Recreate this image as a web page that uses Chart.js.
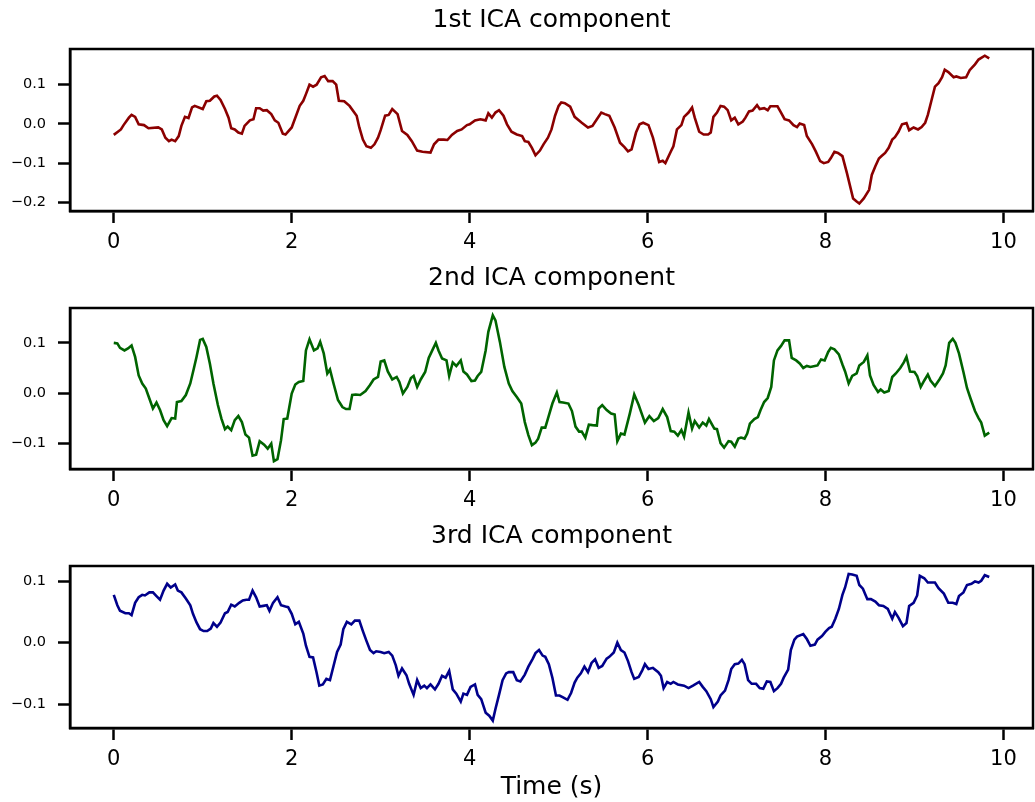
<!DOCTYPE html>
<html>
<head>
<meta charset="utf-8">
<script src="https://cdn.jsdelivr.net/npm/chart.js@4.4.1/dist/chart.umd.min.js"></script>
<style>
  html, body { margin: 0; padding: 0; background: #fff; }
  #wrap { position: relative; width: 1035px; height: 802px; }
  canvas { position: absolute; left: 0; }
</style>
</head>
<body>
<div id="wrap">
  <canvas id="c1" width="1035" height="258" style="top:0px"></canvas>
  <canvas id="c2" width="1035" height="258" style="top:258px"></canvas>
  <canvas id="c3" width="1035" height="286" style="top:516px"></canvas>
</div>
<script>
// ---- data (time in s, component amplitude) ----
const xTicks = [0, 2, 4, 6, 8, 10];

const ica1Time = [
  0, 0.08, 0.11, 0.17, 0.2, 0.24, 0.28, 0.34, 0.39, 0.5,
  0.54, 0.58, 0.62, 0.65, 0.69, 0.73, 0.76, 0.8, 0.84, 0.88,
  0.91, 1.0, 1.04, 1.08, 1.13, 1.16, 1.2, 1.25, 1.29, 1.32,
  1.36, 1.4, 1.44, 1.47, 1.53, 1.57, 1.6, 1.64, 1.68, 1.72,
  1.77, 1.81, 1.85, 1.9, 1.93, 2.0, 2.09, 2.13, 2.16, 2.2,
  2.24, 2.28, 2.33, 2.37, 2.41, 2.46, 2.5, 2.53, 2.59, 2.65,
  2.73, 2.76, 2.8, 2.84, 2.89, 2.93, 2.97, 3.0, 3.05, 3.09,
  3.13, 3.19, 3.24, 3.3, 3.35, 3.41, 3.47, 3.56, 3.6, 3.65,
  3.71, 3.75, 3.8, 3.86, 3.91, 3.97, 4.0, 4.06, 4.12, 4.18,
  4.21, 4.25, 4.29, 4.33, 4.38, 4.42, 4.47, 4.53, 4.59, 4.62,
  4.66, 4.7, 4.74, 4.79, 4.83, 4.88, 4.92, 4.96, 5.0, 5.03,
  5.07, 5.13, 5.18, 5.26, 5.33, 5.38, 5.43, 5.48, 5.52, 5.57,
  5.63, 5.69, 5.74, 5.78, 5.82, 5.87, 5.91, 5.95, 6.01, 6.06,
  6.1, 6.13, 6.17, 6.2, 6.26, 6.29, 6.33, 6.38, 6.41, 6.46,
  6.5, 6.53, 6.58, 6.63, 6.68, 6.71, 6.74, 6.78, 6.82, 6.86,
  6.9, 6.94, 6.98, 7.02, 7.07, 7.1, 7.14, 7.18, 7.23, 7.26,
  7.31, 7.35, 7.38, 7.46, 7.5, 7.54, 7.59, 7.64, 7.68, 7.71,
  7.76, 7.79, 7.85, 7.89, 7.94, 7.98, 8.03, 8.06, 8.1, 8.14,
  8.19, 8.24, 8.31, 8.35, 8.38, 8.43, 8.49, 8.52, 8.56, 8.6,
  8.63, 8.67, 8.71, 8.75, 8.78, 8.82, 8.86, 8.91, 8.94, 8.99,
  9.04, 9.08, 9.12, 9.15, 9.19, 9.23, 9.27, 9.31, 9.34, 9.38,
  9.44, 9.47, 9.52, 9.58, 9.62, 9.68, 9.72, 9.79, 9.84
];
const ica1Values = [
  -0.028, -0.014, -0.003, 0.016, 0.023, 0.018, -0.001, -0.003, -0.011, -0.009,
  -0.014, -0.035, -0.044, -0.04, -0.044, -0.031, -0.005, 0.018, 0.015, 0.042,
  0.046, 0.038, 0.058, 0.059, 0.07, 0.072, 0.061, 0.038, 0.016, -0.011,
  -0.014, -0.022, -0.025, -0.005, 0.009, 0.012, 0.04, 0.04, 0.034, 0.035,
  0.025, 0.009, 0.003, -0.025, -0.027, -0.009, 0.046, 0.059, 0.076, 0.1,
  0.095, 0.1, 0.119, 0.122, 0.109, 0.109, 0.1, 0.059, 0.058, 0.046,
  0.021, -0.009, -0.04, -0.057, -0.061, -0.052, -0.035, -0.016, 0.021, 0.023,
  0.038, 0.025, -0.018, -0.028, -0.044, -0.068, -0.071, -0.073, -0.052, -0.04,
  -0.04, -0.041, -0.028, -0.018, -0.014, -0.003, -0.001, 0.009, 0.012, 0.009,
  0.027, 0.016, 0.029, 0.035, 0.021, -0.001, -0.02, -0.027, -0.031, -0.044,
  -0.046, -0.061, -0.08, -0.068, -0.052, -0.035, -0.014, 0.021, 0.046, 0.055,
  0.053, 0.044, 0.018, 0.003, -0.009, -0.005, 0.012, 0.029, 0.025, 0.021,
  -0.009, -0.048, -0.059, -0.07, -0.065, -0.022, -0.001, 0.003, -0.003, -0.035,
  -0.07, -0.097, -0.094, -0.1, -0.071, -0.057, -0.014, -0.003, 0.018, 0.029,
  0.042, 0.016, -0.02, -0.027, -0.027, -0.022, 0.018, 0.029, 0.046, 0.044,
  0.035, 0.009, 0.016, -0.001, 0.006, 0.016, 0.032, 0.034, 0.048, 0.038,
  0.04, 0.035, 0.045, 0.045, 0.029, 0.012, 0.009, -0.003, -0.008, 0.001,
  -0.003, -0.031, -0.052, -0.07, -0.095, -0.1, -0.097, -0.087, -0.071, -0.074,
  -0.082, -0.125, -0.19, -0.198, -0.203, -0.19, -0.168, -0.13, -0.108, -0.088,
  -0.082, -0.074, -0.061, -0.04, -0.034, -0.02, -0.001, 0.002, -0.016, -0.009,
  -0.014, -0.008, 0.003, 0.023, 0.059, 0.095, 0.104, 0.119, 0.138, 0.132,
  0.119, 0.121, 0.117, 0.119, 0.137, 0.152, 0.164, 0.174, 0.167
];

const ica2Time = [
  0, 0.04, 0.07, 0.12, 0.16, 0.2, 0.24, 0.28, 0.32, 0.36,
  0.4, 0.44, 0.48, 0.52, 0.56, 0.6, 0.65, 0.69, 0.71, 0.76,
  0.81, 0.86, 0.9, 0.93, 0.97, 1.0, 1.04, 1.08, 1.12, 1.17,
  1.21, 1.25, 1.28, 1.32, 1.36, 1.4, 1.44, 1.48, 1.52, 1.56,
  1.6, 1.64, 1.69, 1.73, 1.77, 1.8, 1.84, 1.88, 1.91, 1.95,
  2.0, 2.04, 2.08, 2.13, 2.16, 2.2, 2.25, 2.29, 2.32, 2.36,
  2.4, 2.43, 2.47, 2.52, 2.57, 2.61, 2.65, 2.68, 2.72, 2.77,
  2.83, 2.88, 2.92, 2.97, 3.0, 3.04, 3.08, 3.13, 3.18, 3.21,
  3.25, 3.3, 3.34, 3.37, 3.41, 3.45, 3.5, 3.54, 3.58, 3.62,
  3.65, 3.69, 3.74, 3.77, 3.81, 3.85, 3.9, 3.93, 3.97, 4.02,
  4.06, 4.09, 4.13, 4.18, 4.21, 4.26, 4.29, 4.34, 4.39, 4.44,
  4.48, 4.53, 4.58, 4.62, 4.66, 4.7, 4.74, 4.77, 4.81, 4.85,
  4.88, 4.93, 4.98, 5.01, 5.05, 5.11, 5.15, 5.19, 5.23, 5.26,
  5.3, 5.34, 5.38, 5.43, 5.45, 5.49, 5.54, 5.59, 5.63, 5.66,
  5.7, 5.74, 5.8, 5.85, 5.9, 5.94, 5.97, 6.02, 6.07, 6.12,
  6.17, 6.22, 6.26, 6.3, 6.34, 6.38, 6.41, 6.46, 6.5, 6.53,
  6.58, 6.62, 6.66, 6.69, 6.75, 6.78, 6.82, 6.86, 6.91, 6.94,
  6.98, 7.02, 7.05, 7.09, 7.12, 7.15, 7.2, 7.24, 7.27, 7.31,
  7.35, 7.39, 7.42, 7.46, 7.5, 7.54, 7.59, 7.62, 7.67, 7.71,
  7.75, 7.79, 7.83, 7.88, 7.91, 7.95, 7.99, 8.03, 8.06, 8.1,
  8.15, 8.19, 8.22, 8.26, 8.3, 8.35, 8.38, 8.43, 8.47, 8.5,
  8.54, 8.59, 8.62, 8.66, 8.71, 8.75, 8.79, 8.84, 8.88, 8.91,
  8.95, 9.0, 9.03, 9.07, 9.11, 9.15, 9.18, 9.23, 9.28, 9.32,
  9.35, 9.39, 9.43, 9.46, 9.5, 9.55, 9.59, 9.63, 9.68, 9.72,
  9.75, 9.79, 9.84
];
const ica2Values = [
  0.1, 0.099, 0.09, 0.085, 0.089, 0.095, 0.072, 0.035, 0.019, 0.009,
  -0.011, -0.031, -0.019, -0.034, -0.054, -0.066, -0.05, -0.051, -0.018, -0.016,
  -0.004, 0.019, 0.049, 0.072, 0.106, 0.108, 0.092, 0.059, 0.019, -0.024,
  -0.051, -0.072, -0.067, -0.074, -0.054, -0.046, -0.058, -0.083, -0.089, -0.125,
  -0.123, -0.096, -0.103, -0.111, -0.101, -0.136, -0.132, -0.094, -0.052, -0.051,
  -0.001, 0.017, 0.022, 0.024, 0.085, 0.107, 0.085, 0.089, 0.102, 0.079,
  0.039, 0.047, 0.019, -0.014, -0.028, -0.032, -0.032, -0.004, -0.003, -0.004,
  0.004, 0.016, 0.027, 0.032, 0.063, 0.065, 0.043, 0.027, 0.032, 0.022,
  -0.001, 0.012, 0.03, 0.034, 0.012, 0.027, 0.042, 0.07, 0.085, 0.1,
  0.085, 0.069, 0.065, 0.034, 0.061, 0.054, 0.065, 0.043, 0.037, 0.024,
  0.025, 0.034, 0.042, 0.085, 0.122, 0.155, 0.145, 0.102, 0.052, 0.019,
  0.004, -0.008, -0.021, -0.058, -0.084, -0.104, -0.099, -0.091, -0.069, -0.069,
  -0.051, -0.021, 0.001, -0.018, -0.019, -0.021, -0.036, -0.067, -0.077, -0.077,
  -0.089, -0.063, -0.064, -0.065, -0.031, -0.024, -0.034, -0.041, -0.043, -0.096,
  -0.081, -0.083, -0.041, -0.003, -0.024, -0.044, -0.059, -0.046, -0.056, -0.05,
  -0.032, -0.048, -0.076, -0.077, -0.085, -0.074, -0.087, -0.039, -0.071, -0.056,
  -0.069, -0.059, -0.065, -0.052, -0.071, -0.072, -0.1, -0.109, -0.096, -0.097,
  -0.107, -0.091, -0.089, -0.091, -0.081, -0.061, -0.052, -0.048, -0.034, -0.018,
  -0.01, 0.012, 0.065, 0.085, 0.094, 0.105, 0.105, 0.07, 0.065, 0.059,
  0.05, 0.054, 0.052, 0.054, 0.055, 0.067, 0.065, 0.082, 0.09, 0.087,
  0.077, 0.057, 0.043, 0.019, 0.034, 0.039, 0.055, 0.062, 0.075, 0.035,
  0.016, 0.002, 0.007, 0.001, 0.004, 0.032, 0.039, 0.05, 0.061, 0.072,
  0.043, 0.042, 0.034, 0.012, 0.025, 0.037, 0.025, 0.014, 0.027, 0.039,
  0.055, 0.1, 0.108, 0.1, 0.079, 0.042, 0.01, -0.011, -0.036, -0.05,
  -0.059, -0.085, -0.079
];

const ica3Time = [
  0, 0.04, 0.07, 0.13, 0.17, 0.2, 0.24, 0.28, 0.32, 0.35,
  0.4, 0.44, 0.48, 0.52, 0.56, 0.6, 0.64, 0.69, 0.72, 0.76,
  0.81, 0.86, 0.89, 0.93, 0.97, 1.01, 1.05, 1.09, 1.12, 1.16,
  1.2, 1.25, 1.28, 1.32, 1.36, 1.41, 1.45, 1.49, 1.52, 1.56,
  1.6, 1.64, 1.68, 1.72, 1.75, 1.79, 1.84, 1.88, 1.93, 1.96,
  2.0, 2.04, 2.08, 2.13, 2.16, 2.2, 2.24, 2.28, 2.31, 2.35,
  2.39, 2.43, 2.47, 2.51, 2.55, 2.58, 2.62, 2.67, 2.71, 2.76,
  2.8, 2.84, 2.88, 2.92, 2.95, 3.0, 3.04, 3.09, 3.13, 3.17,
  3.2, 3.24, 3.29, 3.32, 3.37, 3.41, 3.45, 3.49, 3.52, 3.56,
  3.61, 3.65, 3.69, 3.73, 3.77, 3.81, 3.85, 3.9, 3.93, 3.97,
  4.01, 4.06, 4.09, 4.13, 4.18, 4.22, 4.26, 4.29, 4.33, 4.37,
  4.41, 4.44, 4.49, 4.53, 4.57, 4.62, 4.66, 4.71, 4.74, 4.78,
  4.82, 4.85, 4.89, 4.93, 4.97, 5.01, 5.05, 5.1, 5.14, 5.18,
  5.21, 5.25, 5.29, 5.33, 5.37, 5.41, 5.45, 5.49, 5.54, 5.57,
  5.62, 5.66, 5.7, 5.74, 5.78, 5.82, 5.85, 5.9, 5.94, 5.97,
  6.01, 6.06, 6.12, 6.15, 6.18, 6.22, 6.26, 6.29, 6.34, 6.41,
  6.46, 6.51, 6.58, 6.62, 6.66, 6.71, 6.74, 6.79, 6.82, 6.87,
  6.91, 6.94, 6.98, 7.02, 7.06, 7.09, 7.13, 7.17, 7.22, 7.26,
  7.3, 7.34, 7.38, 7.42, 7.46, 7.5, 7.53, 7.58, 7.61, 7.65,
  7.68, 7.75, 7.79, 7.83, 7.88, 7.91, 7.96, 8.0, 8.04, 8.07,
  8.11, 8.15, 8.19, 8.22, 8.26, 8.3, 8.35, 8.38, 8.42, 8.47,
  8.51, 8.56, 8.6, 8.65, 8.7, 8.75, 8.78, 8.82, 8.87, 8.91,
  8.94, 8.99, 9.03, 9.06, 9.11, 9.15, 9.23, 9.27, 9.33, 9.38,
  9.43, 9.47, 9.5, 9.55, 9.59, 9.64, 9.68, 9.72, 9.75, 9.79,
  9.84
];
const ica3Values = [
  0.078, 0.061, 0.052, 0.048, 0.048, 0.045, 0.065, 0.074, 0.078, 0.077,
  0.082, 0.082, 0.076, 0.07, 0.085, 0.096, 0.09, 0.095, 0.085, 0.082,
  0.072, 0.061, 0.047, 0.033, 0.022, 0.019, 0.019, 0.023, 0.032, 0.026,
  0.033, 0.048, 0.05, 0.062, 0.059, 0.065, 0.069, 0.07, 0.07, 0.085,
  0.074, 0.059, 0.06, 0.061, 0.052, 0.065, 0.074, 0.061, 0.059, 0.058,
  0.047, 0.03, 0.034, 0.015, -0.005, -0.023, -0.024, -0.049, -0.07, -0.068,
  -0.059, -0.061, -0.038, -0.015, -0.003, 0.022, 0.034, 0.03, 0.036, 0.036,
  0.019, 0.003, -0.012, -0.017, -0.014, -0.015, -0.017, -0.015, -0.021, -0.037,
  -0.054, -0.042, -0.053, -0.067, -0.085, -0.061, -0.074, -0.07, -0.074, -0.068,
  -0.076, -0.067, -0.054, -0.057, -0.046, -0.076, -0.083, -0.096, -0.083, -0.085,
  -0.072, -0.068, -0.085, -0.092, -0.114, -0.119, -0.127, -0.108, -0.085, -0.061,
  -0.05, -0.048, -0.048, -0.061, -0.063, -0.052, -0.039, -0.026, -0.017, -0.012,
  -0.021, -0.023, -0.035, -0.057, -0.086, -0.086, -0.089, -0.093, -0.082, -0.065,
  -0.057, -0.05, -0.039, -0.048, -0.033, -0.027, -0.041, -0.038, -0.026, -0.023,
  -0.016, 0.0, -0.012, -0.016, -0.03, -0.048, -0.059, -0.056, -0.045, -0.035,
  -0.043, -0.041, -0.048, -0.054, -0.074, -0.064, -0.067, -0.064, -0.068, -0.07,
  -0.074, -0.07, -0.064, -0.072, -0.079, -0.092, -0.105, -0.096, -0.086, -0.078,
  -0.061, -0.043, -0.035, -0.034, -0.028, -0.035, -0.061, -0.067, -0.067, -0.074,
  -0.075, -0.063, -0.064, -0.079, -0.074, -0.067, -0.057, -0.044, -0.012, 0.005,
  0.01, 0.014, 0.006, -0.005, -0.003, 0.005, 0.011, 0.018, 0.024, 0.026,
  0.039, 0.055, 0.078, 0.09, 0.112, 0.111, 0.109, 0.094, 0.088, 0.071,
  0.071, 0.067, 0.061, 0.06, 0.055, 0.039, 0.05, 0.041, 0.027, 0.032,
  0.06, 0.065, 0.077, 0.109, 0.105, 0.098, 0.098, 0.089, 0.08, 0.065,
  0.065, 0.063, 0.076, 0.082, 0.094, 0.096, 0.1, 0.098, 0.101, 0.11,
  0.107
];

// ---- drawing ----
Chart.defaults.font.family = "'DejaVu Sans', sans-serif";
Chart.defaults.color = '#000';

const X_MIN = -0.492, X_MAX = 10.332;

// matplotlib style closed frame around the plot area
const frameBox = {
  id: 'frameBox',
  afterDraw(chart) {
    const { ctx, chartArea: a } = chart;
    ctx.save();
    ctx.strokeStyle = '#000';
    ctx.lineWidth = 2.5;
    ctx.strokeRect(a.left, a.top, a.right - a.left, a.bottom - a.top);
    ctx.restore();
  }
};

const fmtY = v => v.toFixed(1).replace('-', '\u2212');

function makePanel(id, title, times, values, color, yMin, yMax, yTicks, titleBlock, axisHeight, xTitle) {
  const points = times.map((t, i) => ({ x: t, y: values[i] }));
  return new Chart(document.getElementById(id), {
    type: 'line',
    data: { datasets: [{ data: points, borderColor: color, borderWidth: 2.6, pointRadius: 0, tension: 0, fill: false }] },
    options: {
      responsive: false, animation: false, devicePixelRatio: 1,
      layout: { padding: { left: 0, right: 2, top: 0, bottom: 0 } },
      plugins: {
        legend: { display: false }, tooltip: { enabled: false },
        title: {
          display: true, text: title, fullSize: false, color: '#000',
          font: { size: 25, weight: 'normal', lineHeight: 1.2 },
          padding: { top: 5, bottom: titleBlock - 30 - 5 },
        },
      },
      scales: {
        x: {
          type: 'linear', min: X_MIN, max: X_MAX,
          afterBuildTicks: s => { s.ticks = xTicks.map(v => ({ value: v })); },
          afterFit: s => { s.height = axisHeight; },
          grid: { drawOnChartArea: false, tickLength: 12, tickWidth: 2.5, tickColor: '#000' },
          border: { color: '#000', width: 2.5 },
          ticks: { font: { size: 21 }, padding: 7, color: '#000', maxRotation: 0, autoSkip: false, callback: v => String(v) },
          title: { display: !!xTitle, text: xTitle || '', color: '#000', font: { size: 25 }, padding: { top: 0, bottom: 0 } },
        },
        y: {
          min: yMin, max: yMax,
          afterBuildTicks: s => { s.ticks = yTicks.map(v => ({ value: v })); },
          afterFit: s => { s.width = 70; },
          grid: { drawOnChartArea: false, tickLength: 12, tickWidth: 2.5, tickColor: '#000' },
          border: { color: '#000', width: 2.5 },
          ticks: { font: { size: 14.5 }, padding: 12, color: '#000', autoSkip: false, callback: v => fmtY(v) },
        },
      },
    },
    plugins: [frameBox],
  });
}

makePanel('c1', '1st ICA component', ica1Time, ica1Values, '#8b0000', -0.222, 0.191, [-0.2, -0.1, 0, 0.1], 49, 47);
makePanel('c2', '2nd ICA component', ica2Time, ica2Values, '#006400', -0.1516, 0.1696, [-0.1, 0, 0.1], 50, 47);
makePanel('c3', '3rd ICA component', ica3Time, ica3Values, '#00008b', -0.139, 0.125, [-0.1, 0, 0.1], 50, 74, 'Time (s)');
</script>
</body>
</html>
